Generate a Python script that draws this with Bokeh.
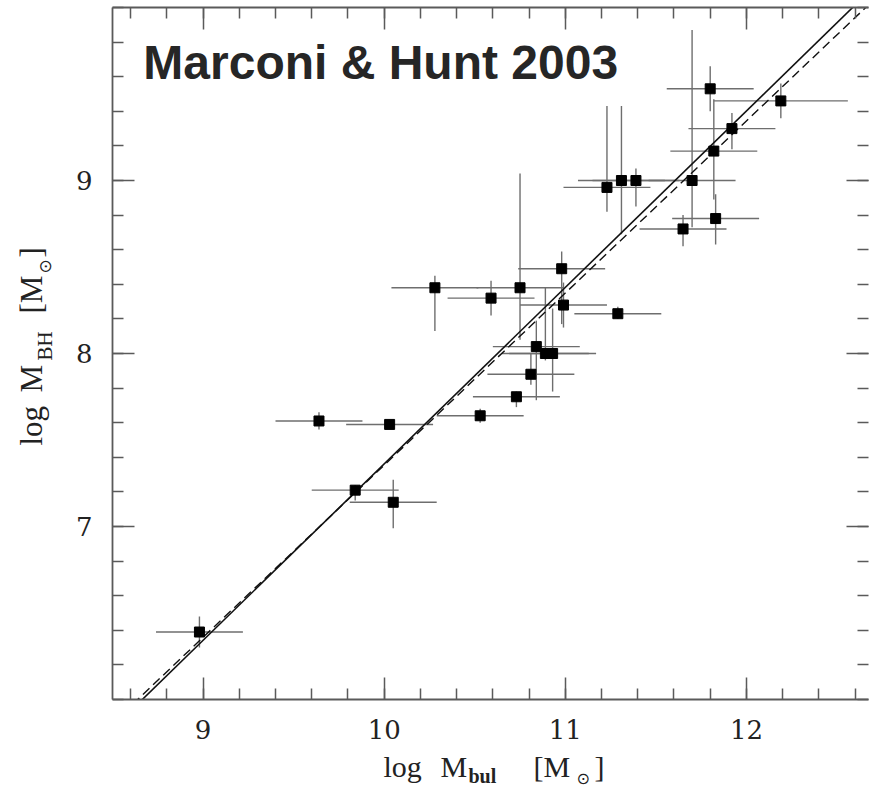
import numpy as np
from bokeh.plotting import figure
from bokeh.layouts import row, column
from bokeh.models import (ColumnDataSource, LinearAxis, SingleIntervalTicker, FixedTicker,
                          Range1d, Label, CustomLabelingPolicy)
from bokeh.embed import file_html
from bokeh.resources import INLINE

# ---- data ----
log_mbul = [8.98, 9.64, 9.84, 10.03, 10.05, 10.28, 10.53, 10.59, 10.73, 10.75,
            10.81, 10.84, 10.89, 10.93, 10.98, 10.99, 11.23, 11.29, 11.31, 11.39,
            11.65, 11.70, 11.80, 11.82, 11.83, 11.92, 12.19]
log_mbh = [6.39, 7.61, 7.21, 7.59, 7.14, 8.38, 7.64, 8.32, 7.75, 8.38,
           7.88, 8.04, 8.00, 8.00, 8.49, 8.28, 8.96, 8.23, 9.00, 9.00,
           8.72, 9.00, 9.53, 9.17, 8.78, 9.30, 9.46]
mbul_err = [0.24, 0.24, 0.24, 0.24, 0.24, 0.24, 0.24, 0.24, 0.24, 0.24,
            0.24, 0.24, 0.24, 0.24, 0.24, 0.24, 0.24, 0.24, 0.24, 0.24,
            0.24, 0.24, 0.24, 0.24, 0.24, 0.24, 0.37]
mbh_err_up = [0.09, 0.05, 0.03, 0.01, 0.13, 0.07, 0.04, 0.10, 0.03, 0.66,
              0.12, 0.15, 0.38, 0.26, 0.10, 0.13, 0.47, 0.04, 0.43, 0.07,
              0.08, 0.87, 0.13, 0.30, 0.14, 0.09, 0.10]
mbh_err_lo = [0.09, 0.05, 0.06, 0.01, 0.15, 0.25, 0.04, 0.10, 0.06, 0.30,
              0.06, 0.31, 0.04, 0.22, 0.32, 0.13, 0.14, 0.03, 0.31, 0.15,
              0.10, 0.27, 0.13, 0.28, 0.15, 0.12, 0.10]

# fits: log M_BH = a + b (log M_bul - pivot)
fit_pivot = 10.9
fit_solid = (8.28, 1.02)
fit_dashed = (8.25, 0.995)

title_text = "Marconi & Hunt 2003"
y_major_ticks = [7, 8, 9]

# ---- layout (page pixels) ----
X_START, X_END = 8.5, 12.674
Y_START, Y_END = 6.0, 10.0
LW = 60                      # width of the y-label strip
MW, MH = 872 - LW, 751       # main figure
BL, BR, BT = 112 - LW, 0, 7
FH = 699 - BT
BB = MH - BT - FH
XH = 791 - MH                # height of the x-label strip

AX = "#5a5a5a"
TXT = "#222222"

p = figure(width=MW, height=MH, x_range=Range1d(X_START, X_END), y_range=Range1d(Y_START, Y_END),
           output_backend="svg", toolbar_location=None,
           x_axis_location=None, y_axis_location=None,
           min_border_left=BL, min_border_right=BR, min_border_top=BT, min_border_bottom=BB)
p.outline_line_color = None
p.grid.visible = False
p.background_fill_color = "white"
p.border_fill_color = "white"

y_minor = [round(v, 1) for v in np.arange(Y_START, Y_END + 0.01, 0.2)]

def make_axis(kind, labels, line=True):
    if kind == "x":
        tk = SingleIntervalTicker(interval=1, num_minor_ticks=5)
    else:
        tk = FixedTicker(ticks=y_major_ticks, minor_ticks=y_minor)
    ax = LinearAxis(ticker=tk)
    ax.major_tick_in = 22
    ax.major_tick_out = 0
    ax.minor_tick_in = 11
    ax.minor_tick_out = 0
    ax.major_tick_line_color = AX
    ax.minor_tick_line_color = AX
    ax.major_tick_line_width = 1.5
    ax.minor_tick_line_width = 1.5
    ax.axis_line_color = AX if line else None
    ax.axis_line_width = 1.8
    if labels:
        ax.major_label_text_font = "DejaVu Serif"
        ax.major_label_text_font_size = "26px"
        ax.major_label_text_color = TXT
    else:
        ax.major_label_policy = CustomLabelingPolicy(code="return new Set()")
        ax.major_label_text_font_size = "1px"
        ax.major_label_standoff = 0
    return ax

xb = make_axis("x", True)
xb.major_label_standoff = 20
yl = make_axis("y", True)
yl.major_label_standoff = 20
xt = make_axis("x", False)
yr = make_axis("y", False, line=False)
p.add_layout(xb, "below")
p.add_layout(yl, "left")
p.add_layout(xt, "above")
p.add_layout(yr, "right")

# ---- data marks ----
x = np.array(log_mbul)
y = np.array(log_mbh)
src = ColumnDataSource(dict(
    x=x, y=y,
    xlo=x - np.array(mbul_err), xhi=x + np.array(mbul_err),
    ylo=y - np.array(mbh_err_lo), yhi=y + np.array(mbh_err_up),
))
ERR = "#6e6e6e"
p.segment(x0="xlo", y0="y", x1="xhi", y1="y", source=src, line_color=ERR, line_width=1.4)
p.segment(x0="x", y0="ylo", x1="x", y1="yhi", source=src, line_color=ERR, line_width=1.4)

fx = np.array([X_START, X_END])
a, b = fit_solid
p.line(fx, a + b * (fx - fit_pivot), line_color="#111111", line_width=1.6)
a, b = fit_dashed
p.line(fx, a + b * (fx - fit_pivot), line_color="#111111", line_width=1.4, line_dash="9 5")

p.scatter("x", "y", source=src, marker="square", size=10, fill_color="black", line_color="black")

FW = MW - BL - BR
def px2x(px):
    return X_START + (px - LW - BL) / FW * (X_END - X_START)
def py2y(py):
    return Y_END - (py - BT) / FH * (Y_END - Y_START)

# texts are anchored on their vertical middle; k = (ascent - descent)/2 in em
K = 0.34
p.add_layout(Label(x=px2x(143), y=py2y(78 - K * 48), text=title_text, text_font="Liberation Sans",
                   text_font_style="bold", text_font_size="48px", text_color="#262626",
                   text_baseline="middle", text_align="left"))

# ---- axis-label strips (their frames fill the figure; coordinates = page px) ----
def strip(w, h, xr, yr_):
    f = figure(width=w, height=h, x_range=Range1d(*xr), y_range=Range1d(*yr_),
               output_backend="svg", toolbar_location=None,
               x_axis_location=None, y_axis_location=None,
               min_border_left=0, min_border_right=0, min_border_top=0, min_border_bottom=0)
    f.outline_line_color = None
    f.grid.visible = False
    f.background_fill_color = "white"
    f.border_fill_color = "white"
    return f

xf = strip(872, XH, (0, 872), (791, MH))
# the strip's frame is aligned with the main frame (page y 7..699) by the row layout
yf = strip(LW, MH, (0, LW), (BT + FH, BT))

MAINF = "Liberation Serif"

def lab(f, px, py, text, size, font=MAINF, angle=0.0, style="normal"):
    # px, py = start of the text on its baseline (page px)
    s = float(size)
    if angle == 0.0:
        ax_, ay_ = px, py - K * s
    else:
        ax_, ay_ = px - K * s, py
    f.add_layout(Label(x=ax_, y=ay_, text=text, text_font=font, text_font_size=f"{size}px",
                       text_color=TXT, text_baseline="middle", text_align="left",
                       angle=angle, text_font_style=style))

# x axis label: log M_bul [M_sun]
lab(xf, 383, 776, "log", 30)
lab(xf, 440, 776, "M", 30)
lab(xf, 468, 782, "bul", 20, style="bold")
lab(xf, 533, 776, "[M", 30)
lab(xf, 576, 783, "\u2299", 16, font="DejaVu Sans")
lab(xf, 594, 776, "]", 30)

# y axis label (rotated)
R = np.pi / 2
lab(yf, 42, 445, "log", 31, angle=R)
lab(yf, 42, 392, "M", 31, angle=R)
lab(yf, 52, 360, "BH", 21, angle=R)
lab(yf, 42, 313, "[M", 31, angle=R)
lab(yf, 50, 273, "\u2299", 17, font="DejaVu Sans", angle=R)
lab(yf, 42, 257, "]", 31, angle=R)

layout = column(row(yf, p, spacing=0), xf, spacing=0)
open("out.html", "w").write(file_html(layout, INLINE))
